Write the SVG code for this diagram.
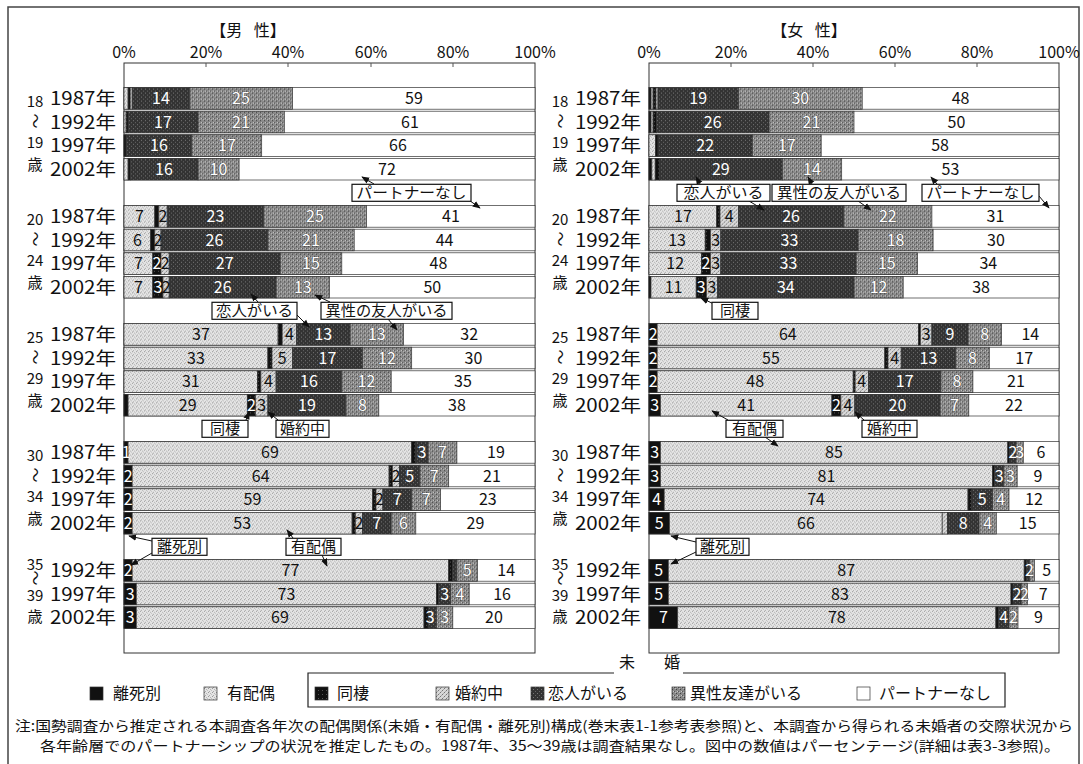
<svg xmlns="http://www.w3.org/2000/svg" width="1083" height="764" viewBox="0 0 1083 764">
<style>
text{font-family:"Noto Sans CJK JP","Liberation Sans",sans-serif;fill:#111}
.bar rect{stroke:#333;stroke-width:0.7}
.d{fill:#111}.m{fill:url(#pm)}.c{fill:url(#pc)}.e{fill:url(#pe)}.l{fill:url(#pl)}.f{fill:url(#pf)}.n{fill:#fff}
.v{font-size:16px;text-anchor:middle}
.w{fill:#fff}
.g{fill:#fff;stroke:#222;stroke-width:0.5px;paint-order:stroke}
.yr{font-size:18px}
.ag{font-size:15px;text-anchor:middle}
.ax{font-size:16px;text-anchor:middle}
.hd{font-size:16px;text-anchor:middle}
.cb{fill:#fff;stroke:#111;stroke-width:1.2}
.ct{font-size:15px;text-anchor:middle}
.lg{font-size:16px}
.nt{font-size:14px}
.ar{stroke:#111;stroke-width:1;fill:none}
</style>
<defs>
<marker id="ah" viewBox="0 0 10 10" refX="9" refY="5" markerWidth="8" markerHeight="8" orient="auto" markerUnits="userSpaceOnUse"><path d="M0,1 L10,5 L0,9 z" fill="#111"/></marker>
<pattern id="pm" width="4" height="4" patternUnits="userSpaceOnUse"><rect width="4" height="4" fill="#e4e4e4"/><rect width="1" height="1" fill="#9a9a9a"/><rect x="2" y="1" width="1" height="1" fill="#b5b5b5"/><rect x="1" y="3" width="1" height="1" fill="#a8a8a8"/><rect x="3" y="2" width="1" height="1" fill="#c0c0c0"/></pattern>
<pattern id="pe" width="4" height="4" patternUnits="userSpaceOnUse"><rect width="4" height="4" fill="#d8d8d8"/><rect width="1" height="1" fill="#777"/><rect x="2" y="2" width="1" height="1" fill="#777"/><rect x="1" y="3" width="1" height="1" fill="#aaa"/><rect x="3" y="1" width="1" height="1" fill="#aaa"/></pattern>
<pattern id="pl" width="4" height="4" patternUnits="userSpaceOnUse"><rect width="4" height="4" fill="#333"/><rect x="1" y="1" width="1" height="1" fill="#777"/><rect x="3" y="3" width="1" height="1" fill="#666"/></pattern>
<pattern id="pc" width="4" height="4" patternUnits="userSpaceOnUse"><rect width="4" height="4" fill="#111"/><rect x="2" y="2" width="1" height="1" fill="#555"/></pattern>
<pattern id="pf" width="4" height="4" patternUnits="userSpaceOnUse"><rect width="4" height="4" fill="#8a8a8a"/><rect y="1" width="1" height="1" fill="#444"/><rect x="2" y="3" width="1" height="1" fill="#555"/><rect x="1" y="3" width="1" height="1" fill="#ccc"/><rect x="3" width="1" height="1" fill="#bbb"/></pattern>
</defs>
<rect x="8" y="7" width="1071" height="760" fill="#fff" stroke="#444" stroke-width="1.5"/>

<g id="header">
<text class="hd" x="248" y="36" word-spacing="8">【男 性】</text>
<text class="hd" x="809" y="36" word-spacing="8">【女 性】</text>
<text class="ax" x="124" y="58">0%</text><text class="ax" x="206" y="58">20%</text><text class="ax" x="288" y="58">40%</text><text class="ax" x="371" y="58">60%</text><text class="ax" x="453" y="58">80%</text><text class="ax" x="535" y="58">100%</text>
<text class="ax" x="649" y="58">0%</text><text class="ax" x="731" y="58">20%</text><text class="ax" x="813" y="58">40%</text><text class="ax" x="895" y="58">60%</text><text class="ax" x="977" y="58">80%</text><text class="ax" x="1059" y="58">100%</text>
</g>

<g id="frames" fill="#fff" stroke="#333" stroke-width="1">
<rect x="124" y="63" width="411" height="590"/>
<rect x="649" y="63" width="410" height="590"/>
<path d="M206,63v4M288,63v4M371,63v4M453,63v4M731,63v4M813,63v4M895,63v4M977,63v4" stroke="#555"/>
</g>

<g id="agelabels">
<text class="ag" x="35" y="107">18</text><text class="ag" transform="translate(35,121) rotate(90)" y="5.5">～</text><text class="ag" x="35" y="148">19</text><text class="ag" x="35" y="170">歳</text>
<text class="ag" x="35" y="225">20</text><text class="ag" transform="translate(35,239) rotate(90)" y="5.5">～</text><text class="ag" x="35" y="266">24</text><text class="ag" x="35" y="288">歳</text>
<text class="ag" x="35" y="343">25</text><text class="ag" transform="translate(35,357) rotate(90)" y="5.5">～</text><text class="ag" x="35" y="384">29</text><text class="ag" x="35" y="406">歳</text>
<text class="ag" x="35" y="461">30</text><text class="ag" transform="translate(35,475) rotate(90)" y="5.5">～</text><text class="ag" x="35" y="502">34</text><text class="ag" x="35" y="524">歳</text>
<text class="ag" x="35" y="570">35</text><text class="ag" transform="translate(35,578) rotate(90)" y="5.5">～</text><text class="ag" x="35" y="601">39</text><text class="ag" x="35" y="622">歳</text>
<text class="ag" x="560" y="107">18</text><text class="ag" transform="translate(560,121) rotate(90)" y="5.5">～</text><text class="ag" x="560" y="148">19</text><text class="ag" x="560" y="170">歳</text>
<text class="ag" x="560" y="225">20</text><text class="ag" transform="translate(560,239) rotate(90)" y="5.5">～</text><text class="ag" x="560" y="266">24</text><text class="ag" x="560" y="288">歳</text>
<text class="ag" x="560" y="343">25</text><text class="ag" transform="translate(560,357) rotate(90)" y="5.5">～</text><text class="ag" x="560" y="384">29</text><text class="ag" x="560" y="406">歳</text>
<text class="ag" x="560" y="461">30</text><text class="ag" transform="translate(560,475) rotate(90)" y="5.5">～</text><text class="ag" x="560" y="502">34</text><text class="ag" x="560" y="524">歳</text>
<text class="ag" x="560" y="570">35</text><text class="ag" transform="translate(560,578) rotate(90)" y="5.5">～</text><text class="ag" x="560" y="601">39</text><text class="ag" x="560" y="622">歳</text>
</g>

<g id="yearlabels" class="yr">
<text x="50" y="105" textLength="66" lengthAdjust="spacingAndGlyphs">1987年</text><text x="50" y="128.5" textLength="66" lengthAdjust="spacingAndGlyphs">1992年</text><text x="50" y="152" textLength="66" lengthAdjust="spacingAndGlyphs">1997年</text><text x="50" y="175.7" textLength="66" lengthAdjust="spacingAndGlyphs">2002年</text>
<text x="50" y="223" textLength="66" lengthAdjust="spacingAndGlyphs">1987年</text><text x="50" y="246.5" textLength="66" lengthAdjust="spacingAndGlyphs">1992年</text><text x="50" y="270" textLength="66" lengthAdjust="spacingAndGlyphs">1997年</text><text x="50" y="293.7" textLength="66" lengthAdjust="spacingAndGlyphs">2002年</text>
<text x="50" y="341" textLength="66" lengthAdjust="spacingAndGlyphs">1987年</text><text x="50" y="364.5" textLength="66" lengthAdjust="spacingAndGlyphs">1992年</text><text x="50" y="388" textLength="66" lengthAdjust="spacingAndGlyphs">1997年</text><text x="50" y="411.7" textLength="66" lengthAdjust="spacingAndGlyphs">2002年</text>
<text x="50" y="459" textLength="66" lengthAdjust="spacingAndGlyphs">1987年</text><text x="50" y="482.5" textLength="66" lengthAdjust="spacingAndGlyphs">1992年</text><text x="50" y="506" textLength="66" lengthAdjust="spacingAndGlyphs">1997年</text><text x="50" y="529.7" textLength="66" lengthAdjust="spacingAndGlyphs">2002年</text>
<text x="50" y="577" textLength="66" lengthAdjust="spacingAndGlyphs">1992年</text><text x="50" y="600.5" textLength="66" lengthAdjust="spacingAndGlyphs">1997年</text><text x="50" y="624" textLength="66" lengthAdjust="spacingAndGlyphs">2002年</text>
<text x="575" y="105" textLength="66" lengthAdjust="spacingAndGlyphs">1987年</text><text x="575" y="128.5" textLength="66" lengthAdjust="spacingAndGlyphs">1992年</text><text x="575" y="152" textLength="66" lengthAdjust="spacingAndGlyphs">1997年</text><text x="575" y="175.7" textLength="66" lengthAdjust="spacingAndGlyphs">2002年</text>
<text x="575" y="223" textLength="66" lengthAdjust="spacingAndGlyphs">1987年</text><text x="575" y="246.5" textLength="66" lengthAdjust="spacingAndGlyphs">1992年</text><text x="575" y="270" textLength="66" lengthAdjust="spacingAndGlyphs">1997年</text><text x="575" y="293.7" textLength="66" lengthAdjust="spacingAndGlyphs">2002年</text>
<text x="575" y="341" textLength="66" lengthAdjust="spacingAndGlyphs">1987年</text><text x="575" y="364.5" textLength="66" lengthAdjust="spacingAndGlyphs">1992年</text><text x="575" y="388" textLength="66" lengthAdjust="spacingAndGlyphs">1997年</text><text x="575" y="411.7" textLength="66" lengthAdjust="spacingAndGlyphs">2002年</text>
<text x="575" y="459" textLength="66" lengthAdjust="spacingAndGlyphs">1987年</text><text x="575" y="482.5" textLength="66" lengthAdjust="spacingAndGlyphs">1992年</text><text x="575" y="506" textLength="66" lengthAdjust="spacingAndGlyphs">1997年</text><text x="575" y="529.7" textLength="66" lengthAdjust="spacingAndGlyphs">2002年</text>
<text x="575" y="577" textLength="66" lengthAdjust="spacingAndGlyphs">1992年</text><text x="575" y="600.5" textLength="66" lengthAdjust="spacingAndGlyphs">1997年</text><text x="575" y="624" textLength="66" lengthAdjust="spacingAndGlyphs">2002年</text>
</g>

<!-- MALE -->
<g id="m18-1987" class="bar" transform="translate(0,87.6)"><rect class="n" x="124" width="411" height="21.6"/><rect class="m" x="124" width="4.1" height="21.6"/><rect class="c" x="128.1" width="2.1" height="21.6"/><rect class="e" x="130.2" width="2" height="21.6"/><rect class="l" x="132.2" width="57.6" height="21.6"/><rect class="f" x="189.8" width="102.7" height="21.6"/><text class="v w" x="161" y="16.4">14</text><text class="v g" x="241" y="16.4">25</text><text class="v" x="414" y="16.4">59</text></g>
<g id="m18-1992" class="bar" transform="translate(0,111.2)"><rect class="n" x="124" width="411" height="21.6"/><rect class="m" x="124" width="2.1" height="21.6"/><rect class="c" x="126.1" width="2" height="21.6"/><rect class="l" x="128.1" width="69.9" height="21.6"/><rect class="f" x="198" width="86.3" height="21.6"/><text class="v w" x="163" y="16.4">17</text><text class="v g" x="241" y="16.4">21</text><text class="v" x="410" y="16.4">61</text></g>
<g id="m18-1997" class="bar" transform="translate(0,134.8)"><rect class="n" x="124" width="411" height="21.6"/><rect class="c" x="124" width="2.1" height="21.6"/><rect class="l" x="126.1" width="65.7" height="21.6"/><rect class="f" x="191.8" width="69.9" height="21.6"/><text class="v w" x="159" y="16.4">16</text><text class="v g" x="227" y="16.4">17</text><text class="v" x="398" y="16.4">66</text></g>
<g id="m18-2002" class="bar" transform="translate(0,158.4)"><rect class="n" x="124" width="411" height="21.6"/><rect class="m" x="124" width="4.1" height="21.6"/><rect class="c" x="128.1" width="2.1" height="21.6"/><rect class="l" x="130.2" width="67.8" height="21.6"/><rect class="f" x="198" width="41.1" height="21.6"/><text class="v w" x="164" y="16.4">16</text><text class="v g" x="218.5" y="16.4">10</text><text class="v" x="387" y="16.4">72</text></g>

<g id="m20-1987" class="bar" transform="translate(0,205.6)"><rect class="n" x="124" width="411" height="21.6"/><rect class="m" x="124" width="30.8" height="21.6"/><rect class="c" x="154.8" width="4.1" height="21.6"/><rect class="e" x="158.9" width="8.3" height="21.6"/><rect class="l" x="167.2" width="96.5" height="21.6"/><rect class="f" x="263.7" width="102.8" height="21.6"/><text class="v" x="139.4" y="16.4">7</text><text class="v" x="163" y="16.4">2</text><text class="v w" x="215.5" y="16.4">23</text><text class="v g" x="315" y="16.4">25</text><text class="v" x="451" y="16.4">41</text></g>
<g id="m20-1992" class="bar" transform="translate(0,229.2)"><rect class="n" x="124" width="411" height="21.6"/><rect class="m" x="124" width="26.7" height="21.6"/><rect class="c" x="150.7" width="4.1" height="21.6"/><rect class="e" x="154.8" width="6.2" height="21.6"/><rect class="l" x="161" width="106.9" height="21.6"/><rect class="f" x="267.9" width="86.3" height="21.6"/><text class="v" x="137.4" y="16.4">6</text><text class="v" x="158" y="16.4">2</text><text class="v w" x="214.4" y="16.4">26</text><text class="v g" x="311" y="16.4">21</text><text class="v" x="444.6" y="16.4">44</text></g>
<g id="m20-1997" class="bar" transform="translate(0,252.8)"><rect class="n" x="124" width="411" height="21.6"/><rect class="m" x="124" width="28.8" height="21.6"/><rect class="c" x="152.8" width="8.2" height="21.6"/><rect class="e" x="161" width="8.2" height="21.6"/><rect class="l" x="169.2" width="111" height="21.6"/><rect class="f" x="280.2" width="61.6" height="21.6"/><text class="v" x="138.4" y="16.4">7</text><text class="v w" x="156.9" y="16.4">2</text><text class="v" x="165.1" y="16.4">2</text><text class="v w" x="224.7" y="16.4">27</text><text class="v g" x="311" y="16.4">15</text><text class="v" x="438.4" y="16.4">48</text></g>
<g id="m20-2002" class="bar" transform="translate(0,276.4)"><rect class="n" x="124" width="411" height="21.6"/><rect class="m" x="124" width="28.8" height="21.6"/><rect class="c" x="152.8" width="10.2" height="21.6"/><rect class="e" x="163" width="6.2" height="21.6"/><rect class="l" x="169.2" width="106.9" height="21.6"/><rect class="f" x="276.1" width="53.4" height="21.6"/><text class="v" x="138.4" y="16.4">7</text><text class="v w" x="157.9" y="16.4">3</text><text class="v" x="166.1" y="16.4">2</text><text class="v w" x="222.7" y="16.4">26</text><text class="v g" x="302.8" y="16.4">13</text><text class="v" x="432.3" y="16.4">50</text></g>

<g id="m25-1987" class="bar" transform="translate(0,323.6)"><rect class="n" x="124" width="411" height="21.6"/><rect class="m" x="124" width="154.1" height="21.6"/><rect class="c" x="278.1" width="4.1" height="21.6"/><rect class="e" x="282.2" width="14.4" height="21.6"/><rect class="l" x="296.6" width="53.5" height="21.6"/><rect class="f" x="350.1" width="53.4" height="21.6"/><text class="v" x="201" y="16.4">37</text><text class="v" x="289.4" y="16.4">4</text><text class="v w" x="323.3" y="16.4">13</text><text class="v g" x="376.8" y="16.4">13</text><text class="v" x="469.2" y="16.4">32</text></g>
<g id="m25-1992" class="bar" transform="translate(0,347.2)"><rect class="n" x="124" width="411" height="21.6"/><rect class="m" x="124" width="143.9" height="21.6"/><rect class="c" x="267.9" width="4.1" height="21.6"/><rect class="e" x="272" width="20.5" height="21.6"/><rect class="l" x="292.5" width="69.9" height="21.6"/><rect class="f" x="362.4" width="49.3" height="21.6"/><text class="v" x="196" y="16.4">33</text><text class="v" x="282.3" y="16.4">5</text><text class="v w" x="327.5" y="16.4">17</text><text class="v g" x="387" y="16.4">12</text><text class="v" x="473.4" y="16.4">30</text></g>
<g id="m25-1997" class="bar" transform="translate(0,370.8)"><rect class="n" x="124" width="411" height="21.6"/><rect class="m" x="124" width="133.6" height="21.6"/><rect class="c" x="257.6" width="3.3" height="21.6"/><rect class="e" x="260.9" width="15.2" height="21.6"/><rect class="l" x="276.1" width="65.7" height="21.6"/><rect class="f" x="341.8" width="49.4" height="21.6"/><text class="v" x="190.8" y="16.4">31</text><text class="v" x="268.5" y="16.4">4</text><text class="v w" x="309" y="16.4">16</text><text class="v g" x="366.5" y="16.4">12</text><text class="v" x="463" y="16.4">35</text></g>
<g id="m25-2002" class="bar" transform="translate(0,394.4)"><rect class="n" x="124" width="411" height="21.6"/><rect class="d" x="124" width="4.1" height="21.6"/><rect class="m" x="128.1" width="119.2" height="21.6"/><rect class="c" x="247.3" width="8.2" height="21.6"/><rect class="e" x="255.5" width="12.4" height="21.6"/><rect class="l" x="267.9" width="78" height="21.6"/><rect class="f" x="345.9" width="32.9" height="21.6"/><text class="v" x="187.7" y="16.4">29</text><text class="v w" x="251.4" y="16.4">2</text><text class="v" x="261.7" y="16.4">3</text><text class="v w" x="306.9" y="16.4">19</text><text class="v g" x="362.4" y="16.4">8</text><text class="v" x="456.9" y="16.4">38</text></g>

<g id="m30-1987" class="bar" transform="translate(0,441.6)"><rect class="n" x="124" width="411" height="21.6"/><rect class="d" x="124" width="4.1" height="21.6"/><rect class="m" x="128.1" width="283.6" height="21.6"/><rect class="c" x="411.7" width="4.1" height="21.6"/><rect class="l" x="415.8" width="12.3" height="21.6"/><rect class="f" x="428.1" width="28.8" height="21.6"/><text class="v w" x="126.2" y="16.4">1</text><text class="v" x="269.9" y="16.4">69</text><text class="v w" x="422" y="16.4">3</text><text class="v g" x="442.5" y="16.4">7</text><text class="v" x="496" y="16.4">19</text></g>
<g id="m30-1992" class="bar" transform="translate(0,465.2)"><rect class="n" x="124" width="411" height="21.6"/><rect class="d" x="124" width="8.2" height="21.6"/><rect class="m" x="132.2" width="256.9" height="21.6"/><rect class="c" x="389.1" width="3.3" height="21.6"/><rect class="e" x="392.4" width="7" height="21.6"/><rect class="l" x="399.4" width="20.5" height="21.6"/><rect class="f" x="419.9" width="28.8" height="21.6"/><text class="v w" x="128.1" y="16.4">2</text><text class="v" x="260.7" y="16.4">64</text><text class="v" x="395.9" y="16.4">2</text><text class="v w" x="409.7" y="16.4">5</text><text class="v g" x="434.3" y="16.4">7</text><text class="v" x="491.9" y="16.4">21</text></g>
<g id="m30-1997" class="bar" transform="translate(0,488.8)"><rect class="n" x="124" width="411" height="21.6"/><rect class="d" x="124" width="8.2" height="21.6"/><rect class="m" x="132.2" width="240.5" height="21.6"/><rect class="c" x="372.7" width="3.3" height="21.6"/><rect class="e" x="376" width="6.9" height="21.6"/><rect class="l" x="382.9" width="28.8" height="21.6"/><rect class="f" x="411.7" width="28.8" height="21.6"/><text class="v w" x="128.1" y="16.4">2</text><text class="v" x="252.5" y="16.4">59</text><text class="v" x="379.5" y="16.4">2</text><text class="v w" x="397.3" y="16.4">7</text><text class="v g" x="426.1" y="16.4">7</text><text class="v" x="487.8" y="16.4">23</text></g>
<g id="m30-2002" class="bar" transform="translate(0,512.4)"><rect class="n" x="124" width="411" height="21.6"/><rect class="d" x="124" width="8.2" height="21.6"/><rect class="m" x="132.2" width="219.9" height="21.6"/><rect class="c" x="352.1" width="3.3" height="21.6"/><rect class="e" x="355.4" width="7" height="21.6"/><rect class="l" x="362.4" width="28.8" height="21.6"/><rect class="f" x="391.2" width="24.6" height="21.6"/><text class="v w" x="128.1" y="16.4">2</text><text class="v" x="242.2" y="16.4">53</text><text class="v" x="358.9" y="16.4">2</text><text class="v w" x="376.8" y="16.4">7</text><text class="v g" x="403.5" y="16.4">6</text><text class="v" x="475.4" y="16.4">29</text></g>

<g id="m35-1992" class="bar" transform="translate(0,559.6)"><rect class="n" x="124" width="411" height="21.6"/><rect class="d" x="124" width="8.2" height="21.6"/><rect class="m" x="132.2" width="316.5" height="21.6"/><rect class="c" x="448.7" width="4.1" height="21.6"/><rect class="l" x="452.8" width="4.1" height="21.6"/><rect class="f" x="456.9" width="20.6" height="21.6"/><text class="v w" x="128.1" y="16.4">2</text><text class="v" x="290.5" y="16.4">77</text><text class="v g" x="467.2" y="16.4">5</text><text class="v" x="506.2" y="16.4">14</text></g>
<g id="m35-1997" class="bar" transform="translate(0,583.2)"><rect class="n" x="124" width="411" height="21.6"/><rect class="d" x="124" width="12.3" height="21.6"/><rect class="m" x="136.3" width="300.1" height="21.6"/><rect class="c" x="436.4" width="2" height="21.6"/><rect class="l" x="438.4" width="12.3" height="21.6"/><rect class="f" x="450.7" width="18.5" height="21.6"/><text class="v w" x="130.2" y="16.4">3</text><text class="v" x="286.4" y="16.4">73</text><text class="v w" x="444.6" y="16.4">3</text><text class="v g" x="460" y="16.4">4</text><text class="v" x="502.1" y="16.4">16</text></g>
<g id="m35-2002" class="bar" transform="translate(0,606.8)"><rect class="n" x="124" width="411" height="21.6"/><rect class="d" x="124" width="12.3" height="21.6"/><rect class="m" x="136.3" width="287.7" height="21.6"/><rect class="c" x="424" width="4.1" height="21.6"/><rect class="l" x="428.1" width="8.3" height="21.6"/><rect class="f" x="436.4" width="16.4" height="21.6"/><text class="v w" x="130.2" y="16.4">3</text><text class="v" x="280" y="16.4">69</text><text class="v w" x="430.2" y="16.4">3</text><text class="v g" x="444.6" y="16.4">3</text><text class="v" x="493.9" y="16.4">20</text></g>

<!-- FEMALE -->
<g id="f18-1987" class="bar" transform="translate(0,87.6)"><rect class="n" x="649" width="410" height="21.6"/><rect class="d" x="649" width="2.1" height="21.6"/><rect class="m" x="651.1" width="2" height="21.6"/><rect class="c" x="653.1" width="2.9" height="21.6"/><rect class="e" x="656" width="2" height="21.6"/><rect class="l" x="658" width="80.4" height="21.6"/><rect class="f" x="738.4" width="123.8" height="21.6"/><text class="v w" x="698.2" y="16.4">19</text><text class="v g" x="800.3" y="16.4">30</text><text class="v" x="960.6" y="16.4">48</text></g>
<g id="f18-1992" class="bar" transform="translate(0,111.2)"><rect class="n" x="649" width="410" height="21.6"/><rect class="d" x="649" width="2.1" height="21.6"/><rect class="m" x="651.1" width="2" height="21.6"/><rect class="c" x="653.1" width="3.3" height="21.6"/><rect class="l" x="656.4" width="112.7" height="21.6"/><rect class="f" x="769.1" width="84.9" height="21.6"/><text class="v w" x="712.7" y="16.4">26</text><text class="v g" x="811.5" y="16.4">21</text><text class="v" x="956.5" y="16.4">50</text></g>
<g id="f18-1997" class="bar" transform="translate(0,134.8)"><rect class="n" x="649" width="410" height="21.6"/><rect class="m" x="649" width="6.6" height="21.6"/><rect class="c" x="655.6" width="2.4" height="21.6"/><rect class="l" x="658" width="94.3" height="21.6"/><rect class="f" x="752.3" width="68.9" height="21.6"/><text class="v w" x="705.2" y="16.4">22</text><text class="v g" x="786.8" y="16.4">17</text><text class="v" x="940.1" y="16.4">58</text></g>
<g id="f18-2002" class="bar" transform="translate(0,158.4)"><rect class="n" x="649" width="410" height="21.6"/><rect class="d" x="649" width="2.9" height="21.6"/><rect class="m" x="651.9" width="3.3" height="21.6"/><rect class="c" x="655.2" width="4.1" height="21.6"/><rect class="l" x="659.3" width="123" height="21.6"/><rect class="f" x="782.3" width="59.4" height="21.6"/><text class="v w" x="720.8" y="16.4">29</text><text class="v g" x="812" y="16.4">14</text><text class="v" x="950.4" y="16.4">53</text></g>

<g id="f20-1987" class="bar" transform="translate(0,205.6)"><rect class="n" x="649" width="410" height="21.6"/><rect class="m" x="649" width="67.7" height="21.6"/><rect class="c" x="716.7" width="3.3" height="21.6"/><rect class="e" x="720" width="18.4" height="21.6"/><rect class="l" x="738.4" width="105.4" height="21.6"/><rect class="f" x="843.8" width="88.1" height="21.6"/><text class="v" x="682.9" y="16.4">17</text><text class="v" x="729.2" y="16.4">4</text><text class="v w" x="791.1" y="16.4">26</text><text class="v g" x="887.8" y="16.4">22</text><text class="v" x="995.5" y="16.4">31</text></g>
<g id="f20-1992" class="bar" transform="translate(0,229.2)"><rect class="n" x="649" width="410" height="21.6"/><rect class="m" x="649" width="56.2" height="21.6"/><rect class="c" x="705.2" width="5.3" height="21.6"/><rect class="e" x="710.5" width="10.3" height="21.6"/><rect class="l" x="720.8" width="137.3" height="21.6"/><rect class="f" x="858.1" width="75" height="21.6"/><text class="v" x="677.1" y="16.4">13</text><text class="v" x="715.6" y="16.4">3</text><text class="v w" x="789.4" y="16.4">33</text><text class="v g" x="895.6" y="16.4">18</text><text class="v" x="996" y="16.4">30</text></g>
<g id="f20-1997" class="bar" transform="translate(0,252.8)"><rect class="n" x="649" width="410" height="21.6"/><rect class="m" x="649" width="52.5" height="21.6"/><rect class="c" x="701.5" width="9" height="21.6"/><rect class="e" x="710.5" width="10.3" height="21.6"/><rect class="l" x="720.8" width="135.3" height="21.6"/><rect class="f" x="856.1" width="61.5" height="21.6"/><text class="v" x="675.2" y="16.4">12</text><text class="v w" x="706" y="16.4">2</text><text class="v" x="715.6" y="16.4">3</text><text class="v w" x="788.4" y="16.4">33</text><text class="v g" x="886.8" y="16.4">15</text><text class="v" x="988.3" y="16.4">34</text></g>
<g id="f20-2002" class="bar" transform="translate(0,276.4)"><rect class="n" x="649" width="410" height="21.6"/><rect class="d" x="649" width="2" height="21.6"/><rect class="m" x="651" width="45.2" height="21.6"/><rect class="c" x="696.2" width="10.2" height="21.6"/><rect class="e" x="706.4" width="11.1" height="21.6"/><rect class="l" x="717.5" width="136.5" height="21.6"/><rect class="f" x="854" width="49.2" height="21.6"/><text class="v" x="673.6" y="16.4">11</text><text class="v w" x="701.3" y="16.4">3</text><text class="v" x="712" y="16.4">3</text><text class="v w" x="785.8" y="16.4">34</text><text class="v g" x="878.6" y="16.4">12</text><text class="v" x="981.1" y="16.4">38</text></g>

<g id="f25-1987" class="bar" transform="translate(0,323.6)"><rect class="n" x="649" width="410" height="21.6"/><rect class="d" x="649" width="8.2" height="21.6"/><rect class="m" x="657.2" width="261.2" height="21.6"/><rect class="c" x="918.4" width="2" height="21.6"/><rect class="e" x="920.4" width="11.5" height="21.6"/><rect class="l" x="931.9" width="36.1" height="21.6"/><rect class="f" x="968" width="33.6" height="21.6"/><text class="v w" x="653.1" y="16.4">2</text><text class="v" x="787.8" y="16.4">64</text><text class="v" x="926.2" y="16.4">3</text><text class="v w" x="950" y="16.4">9</text><text class="v g" x="984.8" y="16.4">8</text><text class="v" x="1030.3" y="16.4">14</text></g>
<g id="f25-1992" class="bar" transform="translate(0,347.2)"><rect class="n" x="649" width="410" height="21.6"/><rect class="d" x="649" width="8.2" height="21.6"/><rect class="m" x="657.2" width="227.6" height="21.6"/><rect class="c" x="884.8" width="3.2" height="21.6"/><rect class="e" x="888" width="13.2" height="21.6"/><rect class="l" x="901.2" width="54.5" height="21.6"/><rect class="f" x="955.7" width="33.6" height="21.6"/><text class="v w" x="653.1" y="16.4">2</text><text class="v" x="771" y="16.4">55</text><text class="v" x="894.6" y="16.4">4</text><text class="v w" x="928.4" y="16.4">13</text><text class="v g" x="972.5" y="16.4">8</text><text class="v" x="1024.2" y="16.4">17</text></g>
<g id="f25-1997" class="bar" transform="translate(0,370.8)"><rect class="n" x="649" width="410" height="21.6"/><rect class="d" x="649" width="8.2" height="21.6"/><rect class="m" x="657.2" width="196" height="21.6"/><rect class="c" x="853.2" width="2" height="21.6"/><rect class="e" x="855.2" width="13.2" height="21.6"/><rect class="l" x="868.4" width="72.5" height="21.6"/><rect class="f" x="940.9" width="32" height="21.6"/><text class="v w" x="653.1" y="16.4">2</text><text class="v" x="755.2" y="16.4">48</text><text class="v" x="861.8" y="16.4">4</text><text class="v w" x="904.7" y="16.4">17</text><text class="v g" x="956.9" y="16.4">8</text><text class="v" x="1016" y="16.4">21</text></g>
<g id="f25-2002" class="bar" transform="translate(0,394.4)"><rect class="n" x="649" width="410" height="21.6"/><rect class="d" x="649" width="11.5" height="21.6"/><rect class="m" x="660.5" width="171.4" height="21.6"/><rect class="c" x="831.9" width="9" height="21.6"/><rect class="e" x="840.9" width="13.9" height="21.6"/><rect class="l" x="854.8" width="85.3" height="21.6"/><rect class="f" x="940.1" width="28.7" height="21.6"/><text class="v w" x="654.7" y="16.4">3</text><text class="v" x="746.2" y="16.4">41</text><text class="v w" x="836.4" y="16.4">2</text><text class="v" x="847.9" y="16.4">4</text><text class="v w" x="897.5" y="16.4">20</text><text class="v g" x="954.5" y="16.4">7</text><text class="v" x="1013.9" y="16.4">22</text></g>

<g id="f30-1987" class="bar" transform="translate(0,441.6)"><rect class="n" x="649" width="410" height="21.6"/><rect class="d" x="649" width="11.5" height="21.6"/><rect class="m" x="660.5" width="347.3" height="21.6"/><rect class="c" x="1007.8" width="2" height="21.6"/><rect class="l" x="1009.8" width="6.2" height="21.6"/><rect class="f" x="1016" width="7.3" height="21.6"/><text class="v w" x="654.7" y="16.4">3</text><text class="v" x="834" y="16.4">85</text><text class="v w" x="1012.9" y="16.4">2</text><text class="v g" x="1019.6" y="16.4">3</text><text class="v" x="1041" y="16.4">6</text></g>
<g id="f30-1992" class="bar" transform="translate(0,465.2)"><rect class="n" x="649" width="410" height="21.6"/><rect class="d" x="649" width="11.5" height="21.6"/><rect class="m" x="660.5" width="332.1" height="21.6"/><rect class="c" x="992.6" width="2" height="21.6"/><rect class="l" x="994.6" width="9.1" height="21.6"/><rect class="f" x="1003.7" width="13.5" height="21.6"/><text class="v w" x="654.7" y="16.4">3</text><text class="v" x="826.5" y="16.4">81</text><text class="v w" x="999.2" y="16.4">3</text><text class="v g" x="1010.5" y="16.4">3</text><text class="v" x="1038" y="16.4">9</text></g>
<g id="f30-1997" class="bar" transform="translate(0,488.8)"><rect class="n" x="649" width="410" height="21.6"/><rect class="d" x="649" width="15.2" height="21.6"/><rect class="m" x="664.2" width="303.8" height="21.6"/><rect class="c" x="968" width="3.7" height="21.6"/><rect class="l" x="971.7" width="20.9" height="21.6"/><rect class="f" x="992.6" width="16.4" height="21.6"/><text class="v w" x="656.6" y="16.4">4</text><text class="v" x="816.1" y="16.4">74</text><text class="v w" x="982.2" y="16.4">5</text><text class="v g" x="1000.8" y="16.4">4</text><text class="v" x="1034" y="16.4">12</text></g>
<g id="f30-2002" class="bar" transform="translate(0,512.4)"><rect class="n" x="649" width="410" height="21.6"/><rect class="d" x="649" width="20.5" height="21.6"/><rect class="m" x="669.5" width="272.7" height="21.6"/><rect class="e" x="942.2" width="5.3" height="21.6"/><rect class="l" x="947.5" width="31.5" height="21.6"/><rect class="f" x="979" width="17.3" height="21.6"/><text class="v w" x="659.3" y="16.4">5</text><text class="v" x="805.9" y="16.4">66</text><text class="v w" x="963.2" y="16.4">8</text><text class="v g" x="987.6" y="16.4">4</text><text class="v" x="1027.7" y="16.4">15</text></g>

<g id="f35-1992" class="bar" transform="translate(0,559.6)"><rect class="n" x="649" width="410" height="21.6"/><rect class="d" x="649" width="19.3" height="21.6"/><rect class="m" x="668.3" width="355.9" height="21.6"/><rect class="c" x="1024.2" width="2" height="21.6"/><rect class="l" x="1026.2" width="3.3" height="21.6"/><rect class="f" x="1029.5" width="4.9" height="21.6"/><text class="v w" x="658.6" y="16.4">5</text><text class="v" x="846.2" y="16.4">87</text><text class="v g" x="1029.5" y="16.4">2</text><text class="v" x="1046.7" y="16.4">5</text></g>
<g id="f35-1997" class="bar" transform="translate(0,583.2)"><rect class="n" x="649" width="410" height="21.6"/><rect class="d" x="649" width="19.3" height="21.6"/><rect class="m" x="668.3" width="342.7" height="21.6"/><rect class="c" x="1011" width="2" height="21.6"/><rect class="l" x="1013" width="8.3" height="21.6"/><rect class="f" x="1021.3" width="6.1" height="21.6"/><text class="v w" x="658.6" y="16.4">5</text><text class="v" x="839.9" y="16.4">83</text><text class="v w" x="1017" y="16.4">2</text><text class="v g" x="1024.4" y="16.4">2</text><text class="v" x="1043.2" y="16.4">7</text></g>
<g id="f35-2002" class="bar" transform="translate(0,606.8)"><rect class="n" x="649" width="410" height="21.6"/><rect class="d" x="649" width="28.7" height="21.6"/><rect class="m" x="677.7" width="318.2" height="21.6"/><rect class="c" x="995.9" width="2.4" height="21.6"/><rect class="l" x="998.3" width="10.7" height="21.6"/><rect class="f" x="1009" width="9" height="21.6"/><text class="v w" x="663.4" y="16.4">7</text><text class="v" x="836.8" y="16.4">78</text><text class="v w" x="1003.6" y="16.4">4</text><text class="v g" x="1013.5" y="16.4">2</text><text class="v" x="1038.5" y="16.4">9</text></g>

<g id="connectors" class="ar" marker-end="url(#ah)">
<path d="M374,184 L362,177"/>
<path d="M466,198 L480,208"/>
<path d="M258,302 L251,294"/>
<path d="M297,315 L309,327"/>
<path d="M330,302 L315,295"/>
<path d="M388,319 L397,330"/>
<path d="M246,420 L249,412"/>
<path d="M278,420 L268,412"/>
<path d="M152,541 L129,536"/>
<path d="M152,553 L131,565"/>
<path d="M293,538 L287,530"/>
<path d="M322,555 L327,566"/>
<path d="M700,184 L696,177"/>
<path d="M749,201 L764,210"/>
<path d="M812,184 L808,177"/>
<path d="M858,201 L871,210"/>
<path d="M937,184 L931,177"/>
<path d="M1039,196 L1049,208"/>
<path d="M714,304 L701,298"/>
<path d="M728,420 L712,411"/>
<path d="M765,437 L778,446"/>
<path d="M864,420 L855,412"/>
<path d="M696,542 L671,536"/>
<path d="M696,552 L671,564"/>
</g>

<g id="callouts">
<g id="cL-none"><rect class="cb" x="352" y="184.3" width="119" height="17"/><text class="ct" x="411.5" y="198.3" textLength="110" lengthAdjust="spacingAndGlyphs">パートナーなし</text></g>
<g id="cL-lover"><rect class="cb" x="212" y="302.3" width="85" height="17"/><text class="ct" x="254.5" y="316.3" textLength="77" lengthAdjust="spacingAndGlyphs">恋人がいる</text></g>
<g id="cL-friend"><rect class="cb" x="321" y="302.3" width="131" height="17"/><text class="ct" x="386.5" y="316.3" textLength="122" lengthAdjust="spacingAndGlyphs">異性の友人がいる</text></g>
<g id="cL-cohab"><rect class="cb" x="202" y="420.3" width="46" height="17"/><text class="ct" x="225" y="434.3">同棲</text></g>
<g id="cL-engaged"><rect class="cb" x="276" y="420.3" width="53" height="17"/><text class="ct" x="302.5" y="434.3">婚約中</text></g>
<g id="cL-div"><rect class="cb" x="152" y="538.3" width="55" height="17"/><text class="ct" x="179.5" y="552.3">離死別</text></g>
<g id="cL-married"><rect class="cb" x="286" y="538.3" width="55" height="17"/><text class="ct" x="313.5" y="552.3">有配偶</text></g>
<g id="cR-lover"><rect class="cb" x="677" y="184.3" width="93" height="17"/><text class="ct" x="723.5" y="198.3" textLength="80" lengthAdjust="spacingAndGlyphs">恋人がいる</text></g>
<g id="cR-friend"><rect class="cb" x="772" y="184.3" width="134" height="17"/><text class="ct" x="839" y="198.3" textLength="124" lengthAdjust="spacingAndGlyphs">異性の友人がいる</text></g>
<g id="cR-none"><rect class="cb" x="922" y="184.3" width="117" height="17"/><text class="ct" x="980.5" y="198.3" textLength="108" lengthAdjust="spacingAndGlyphs">パートナーなし</text></g>
<g id="cR-cohab"><rect class="cb" x="712" y="302.3" width="46" height="17"/><text class="ct" x="735" y="316.3">同棲</text></g>
<g id="cR-married"><rect class="cb" x="726" y="420.3" width="57" height="17"/><text class="ct" x="754.5" y="434.3">有配偶</text></g>
<g id="cR-engaged"><rect class="cb" x="862" y="420.3" width="55" height="17"/><text class="ct" x="889.5" y="434.3">婚約中</text></g>
<g id="cR-div"><rect class="cb" x="696" y="538.3" width="53" height="17"/><text class="ct" x="722.5" y="552.3">離死別</text></g>
</g>

<g id="legend">
<path d="M614,673 H308 V707 H1005 V673 H683" fill="none" stroke="#222" stroke-width="1.2"/>
<text class="lg" x="627" y="668" text-anchor="middle">未</text>
<text class="lg" x="672" y="668" text-anchor="middle">婚</text>
<g class="bar">
<rect class="d" x="90" y="687" width="13" height="13"/>
<rect class="m" x="204" y="687" width="13" height="13"/>
<rect class="c" x="315" y="687" width="13" height="13"/>
<rect class="e" x="436" y="687" width="13" height="13"/>
<rect class="l" x="531" y="687" width="13" height="13"/>
<rect class="f" x="672" y="687" width="13" height="13"/>
<rect class="n" x="857" y="687" width="13" height="13"/>
</g>
<text class="lg" x="113" y="699">離死別</text>
<text class="lg" x="227" y="699">有配偶</text>
<text class="lg" x="337" y="699">同棲</text>
<text class="lg" x="455" y="699">婚約中</text>
<text class="lg" x="548" y="699">恋人がいる</text>
<text class="lg" x="690" y="699">異性友達がいる</text>
<text class="lg" x="879" y="699">パートナーなし</text>
</g>

<g id="notes">
<text class="nt" x="15" y="730.5" textLength="1058" lengthAdjust="spacingAndGlyphs">注:国勢調査から推定される本調査各年次の配偶関係(未婚・有配偶・離死別)構成(巻末表1-1参考表参照)と、本調査から得られる未婚者の交際状況から</text>
<text class="nt" x="40" y="751" textLength="1020" lengthAdjust="spacingAndGlyphs">各年齢層でのパートナーシップの状況を推定したもの。1987年、35～39歳は調査結果なし。図中の数値はパーセンテージ(詳細は表3-3参照)。</text>
</g>
</svg>
